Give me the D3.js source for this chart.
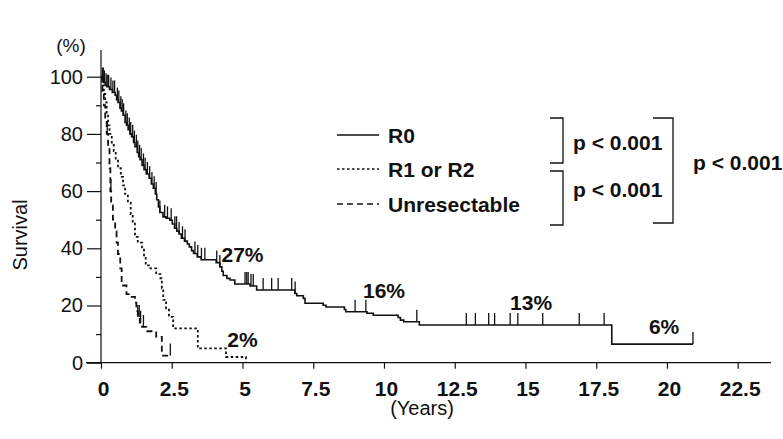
<!DOCTYPE html>
<html>
<head>
<meta charset="utf-8">
<script src="https://cdn.jsdelivr.net/npm/d3@7/dist/d3.min.js"></script>
<style>
  html, body { margin: 0; padding: 0; background: #fff; }
  svg { display: block; font-family: "Liberation Sans", Arial, Helvetica, sans-serif; }
</style>
</head>
<body>
<svg id="chart" width="783" height="439"></svg>
<script>
// ---------- DATA ----------
const xTicks = [0, 2.5, 5, 7.5, 10, 12.5, 15, 17.5, 20, 22.5];
const xTickLabels = ["0", "2.5", "5", "7.5", "10", "12.5", "15", "17.5", "20", "22.5"];
const yMajorTicks = [0, 20, 40, 60, 80, 100];
const yMinorTicks = [10, 30, 50, 70, 90];

const seriesNames = ["R0", "R1 or R2", "Unresectable"];

// Kaplan-Meier steps: [time (years), survival (%) after that time]
const r0Steps = [[0,100],[0.05,99],[0.1,98],[0.15,97],[0.2,96.5],[0.3,95.5],[0.4,94.5],[0.5,93.5],[0.55,92],[0.6,91],
  [0.67,89],[0.72,88],[0.78,86.5],[0.85,84],[0.9,83],[0.96,81.5],[1.02,80],[1.08,79],[1.15,77],[1.2,75.5],
  [1.28,73.5],[1.33,72],[1.38,71],[1.45,69],[1.52,67.5],[1.6,66],[1.7,64.5],[1.78,62.5],[1.85,61],[1.92,59],
  [1.97,57],[2.03,54.5],[2.08,52.5],[2.19,51],[2.3,50.5],[2.43,49.8],[2.52,48.5],[2.6,47],[2.68,46],[2.76,45],
  [2.84,43.5],[2.95,42.5],[3.05,41.5],[3.12,40.5],[3.2,39.2],[3.27,38.2],[3.4,37],[3.54,36],[4.07,35],[4.2,33.5],
  [4.27,32],[4.32,30.5],[4.45,29.5],[4.56,28.9],[4.73,27.5],[5.27,26.8],[5.5,25.4],[6.85,24.2],[6.92,23.4],[7.15,22.5],
  [7.21,20.8],[7.85,20.1],[7.95,19.5],[8.6,18.6],[8.65,17.8],[9.4,17.3],[9.62,16.6],[10.5,15.8],[10.58,14.9],[10.7,14.3],
  [11.25,13.2],[18.05,6.5]];
const r0End = 20.92;
const r0Censored = [0.05,0.08,0.12,0.18,0.22,0.27,0.35,0.42,0.48,0.58,0.63,0.7,0.75,0.8,0.88,0.93,1.0,1.05,1.12,1.18,
  1.25,1.3,1.36,1.42,1.5,1.56,1.64,1.72,1.8,1.88,1.95,2.08,2.25,2.35,2.48,2.61,2.67,2.76,2.88,2.97,3.32,3.42,3.55,3.67,
  4.09,4.2,5.09,5.15,5.2,5.3,5.38,5.73,6.03,6.26,6.74,6.86,8.98,9.36,11.16,12.91,13.23,13.7,13.91,14.46,14.73,15.61,
  16.9,17.78,20.92];

const r12Steps = [[0,100],[0.05,97],[0.1,94],[0.15,91],[0.2,87],[0.25,83],[0.3,80],[0.38,77],[0.45,74],[0.52,71],
  [0.6,68],[0.7,65],[0.78,62],[0.85,59],[0.95,56],[1.05,52],[1.12,49],[1.2,44],[1.3,42],[1.45,40],[1.52,37],[1.58,34],
  [1.75,33],[1.95,31],[2.1,29.5],[2.15,26],[2.2,22],[2.3,19],[2.4,16],[2.55,12],[3.42,5],[4.42,2],[5.12,0]];
const r12End = 5.12;
const r12Censored = [];

const unresSteps = [[0,100],[0.05,95],[0.1,90],[0.15,85],[0.2,80],[0.25,75],[0.3,68],[0.33,60],[0.36,55],[0.42,50],
  [0.5,46],[0.55,42],[0.6,38],[0.68,33],[0.73,27],[0.9,24],[1.05,23],[1.2,21],[1.25,18],[1.3,16],[1.37,14],[1.45,12.5],
  [1.6,11],[1.95,9],[2.15,2.5]];
const unresEnd = 2.45;
const unresCensored = [0.22,0.35,1.3,1.35,1.4,1.5,2.45];

const annotations = [
  { text: "27%", t: 5.0, v: 35.2 },
  { text: "16%", t: 10.0, v: 22.6 },
  { text: "13%", t: 15.2, v: 18.4 },
  { text: "6%",  t: 19.9, v: 10 },
  { text: "2%",  t: 5.0, v: 5.5 }
];
const pLabels = ["p < 0.001", "p < 0.001", "p < 0.001"];

// ---------- CHART ----------
const svg = d3.select("#chart");
const x = d3.scaleLinear().domain([0, 22.5]).range([101, 737.7]);
const y = d3.scaleLinear().domain([0, 100]).range([362.7, 76.7]);

const ink = "#111";

// y axis line (extends above 100)
svg.append("line").attr("x1", x(0)).attr("x2", x(0)).attr("y1", 50).attr("y2", y(0))
  .attr("stroke", ink).attr("stroke-width", 1.2);
// x axis line (extends left of origin)
svg.append("line").attr("x1", 86).attr("x2", 771).attr("y1", y(0)).attr("y2", y(0))
  .attr("stroke", ink).attr("stroke-width", 1.2);

// y axis
const yAxis = d3.axisLeft(y).tickValues(yMajorTicks).tickSize(14).tickPadding(4).tickFormat(d3.format("d"));
const gy = svg.append("g").attr("transform", `translate(${x(0)},0)`).call(yAxis);
gy.select(".domain").remove();
gy.selectAll("line").attr("stroke", ink).attr("stroke-width", 1.2);
gy.selectAll("text").attr("font-size", 20).attr("fill", ink).attr("font-family", "Liberation Sans, Arial, sans-serif");
const yMinor = d3.axisLeft(y).tickValues(yMinorTicks).tickSize(5).tickFormat("");
const gy2 = svg.append("g").attr("transform", `translate(${x(0)},0)`).call(yMinor);
gy2.select(".domain").remove();
gy2.selectAll("line").attr("stroke", ink).attr("stroke-width", 1.2);

// x axis
const xAxis = d3.axisBottom(x).tickValues(xTicks).tickSize(6).tickPadding(12)
  .tickFormat((d, i) => xTickLabels[i]);
const gx = svg.append("g").attr("transform", `translate(0,${y(0)})`).call(xAxis);
gx.select(".domain").remove();
gx.selectAll("line").attr("stroke", ink).attr("stroke-width", 1.2);
gx.selectAll("text").attr("font-size", 21).attr("font-weight", "bold").attr("fill", ink)
  .attr("dx", 2).attr("font-family", "Liberation Sans, Arial, sans-serif");

// axis titles
svg.append("text").attr("x", 71).attr("y", 52).attr("text-anchor", "middle")
  .attr("font-size", 19).attr("fill", ink).text("(%)");
svg.append("text").attr("transform", "translate(27,235) rotate(-90)").attr("text-anchor", "middle")
  .attr("font-size", 20).attr("fill", ink).text("Survival");
svg.append("text").attr("x", 422).attr("y", 415).attr("text-anchor", "middle")
  .attr("font-size", 20).attr("fill", ink).text("(Years)");

// curves
const line = d3.line().x(d => x(d[0])).y(d => y(d[1])).curve(d3.curveStepAfter);
function drawSeries(steps, end, censored, dash, width) {
  const pts = steps.slice();
  const last = pts[pts.length - 1];
  if (end > last[0]) pts.push([end, last[1]]);
  svg.append("path").datum(pts).attr("d", line).attr("fill", "none")
    .attr("stroke", ink).attr("stroke-width", width).attr("stroke-dasharray", dash);
  const survAt = t => { let v = steps[0][1]; for (const s of steps) { if (s[0] <= t) v = s[1]; } return v; };
  svg.append("g").selectAll("line").data(censored).join("line")
    .attr("x1", d => x(d)).attr("x2", d => x(d))
    .attr("y1", d => y(survAt(d))).attr("y2", d => y(survAt(d)) - 12)
    .attr("stroke", ink).attr("stroke-width", 1.3);
}
drawSeries(r0Steps, r0End, r0Censored, null, 1.6);
drawSeries(r12Steps, r12End, r12Censored, "2.5,2.5", 1.8);
drawSeries(unresSteps, unresEnd, unresCensored, "6,4", 1.8);

// annotations
svg.append("g").selectAll("text").data(annotations).join("text")
  .attr("x", d => x(d.t)).attr("y", d => y(d.v)).attr("text-anchor", "middle")
  .attr("font-size", 21).attr("font-weight", "bold").attr("fill", ink).text(d => d.text);

// legend
const dashes = [null, "2.5,2.5", "6,4"];
const legY = [135, 169, 204];
const leg = svg.append("g");
seriesNames.forEach((name, i) => {
  leg.append("line").attr("x1", 337).attr("x2", 379).attr("y1", legY[i]).attr("y2", legY[i])
    .attr("stroke", ink).attr("stroke-width", 1.6).attr("stroke-dasharray", dashes[i]);
  leg.append("text").attr("x", 388).attr("y", legY[i] + 7.5).attr("font-size", 21)
    .attr("font-weight", "bold").attr("fill", ink).text(name);
});

// p-value brackets
function bracket(xl, xr, y1, y2) {
  svg.append("path").attr("d", `M${xl},${y1}H${xr}V${y2}H${xl}`).attr("fill", "none")
    .attr("stroke", ink).attr("stroke-width", 1.3);
}
bracket(550, 563, 118, 163);
bracket(550, 563, 171, 225);
bracket(653, 673, 118, 223);
const pPos = [[573, 150], [573, 197], [693, 170]];
pLabels.forEach((p, i) => {
  svg.append("text").attr("x", pPos[i][0]).attr("y", pPos[i][1]).attr("font-size", 21)
    .attr("font-weight", "bold").attr("fill", ink).text(p);
});
</script>
</body>
</html>
